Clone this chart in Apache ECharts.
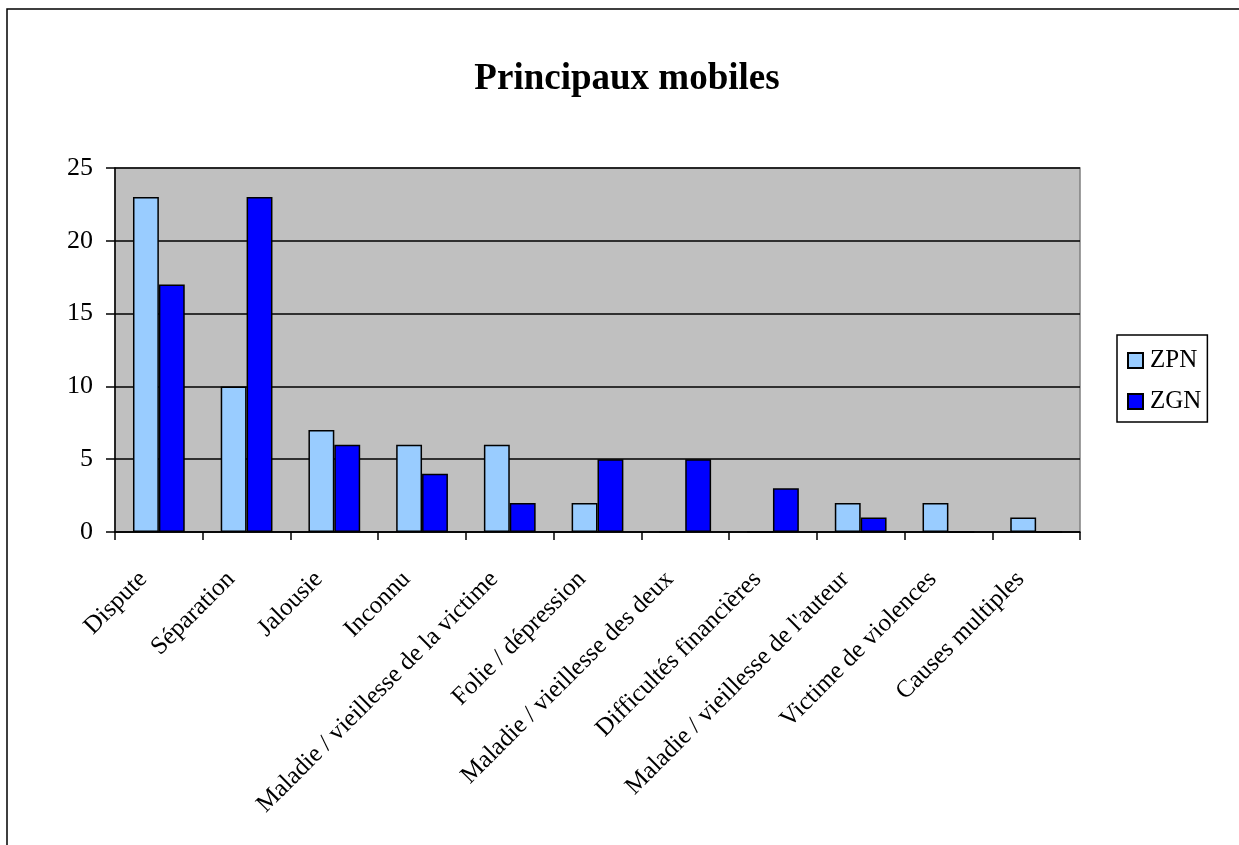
<!DOCTYPE html>
<html><head><meta charset="utf-8">
<script src="https://cdn.jsdelivr.net/npm/echarts@6/dist/echarts.min.js"></script>
<style>html,body{margin:0;padding:0;background:#fff}#c{width:1239px;height:845px}</style>
</head><body><div id="c"></div>
<script>
const categories = ["Dispute","Séparation","Jalousie","Inconnu","Maladie / vieillesse de la victime","Folie / dépression","Maladie / vieillesse des deux","Difficultés financières","Maladie / vieillesse de l'auteur","Victime de violences","Causes multiples"];
const zpn = [23,10,7,6,6,2,0,0,2,2,1];
const zgn = [17,23,6,4,2,5,5,3,1,0,0];
const yTicks = [0,5,10,15,20,25];
const font = "'Liberation Serif','Times New Roman',serif";
const chart = echarts.init(document.getElementById('c'));
chart.setOption({
  animation:false,
  backgroundColor:'#fff',
  graphic:[{type:'rect',shape:{x:7,y:9,width:1300,height:900},style:{fill:'none',stroke:'#000',lineWidth:1.5},z:-1}],
  title:{text:'Principaux mobiles',left:622,top:56,textAlign:'center',textStyle:{fontFamily:font,fontSize:37,fontWeight:'bold',color:'#000'}},
  legend:{orient:'vertical',left:1117,top:335,padding:[13,6,8,10],itemGap:16,itemWidth:15,itemHeight:15,icon:'rect',borderColor:'#000',borderWidth:1.5,
    textStyle:{fontFamily:font,fontSize:25,lineHeight:15,color:'#000',padding:[0,0,0,2]},data:['ZPN','ZGN']},
  grid:{left:115,right:159,top:168,bottom:313,show:true,backgroundColor:'#C0C0C0',borderColor:'#808080',borderWidth:1.5},
  xAxis:{type:'category',data:categories,
    axisLine:{lineStyle:{color:'#000',width:1.5}},
    axisTick:{show:true,length:8,lineStyle:{color:'#000',width:1.5}},
    axisLabel:{rotate:45,margin:28,interval:0,fontFamily:font,fontSize:25,color:'#000',padding:[0,22,0,0]}},
  yAxis:{type:'value',min:0,max:25,interval:5,
    axisLine:{show:true,lineStyle:{color:'#000',width:1.5}},
    axisTick:{show:true,length:9,lineStyle:{color:'#000',width:1.5}},
    splitLine:{lineStyle:{color:'#000',width:1.5}},
    axisLabel:{margin:22,fontFamily:font,fontSize:26,color:'#000',formatter:v=>yTicks.includes(v)?String(v):''}},
  series:[
    {name:'ZPN',type:'bar',data:zpn,barGap:'0%',barCategoryGap:'41%',itemStyle:{color:'#99CCFF',borderColor:'#000',borderWidth:1.5}},
    {name:'ZGN',type:'bar',data:zgn,barGap:'0%',barCategoryGap:'41%',itemStyle:{color:'#0000FF',borderColor:'#000',borderWidth:1.5}}
  ]
});
</script></body></html>
